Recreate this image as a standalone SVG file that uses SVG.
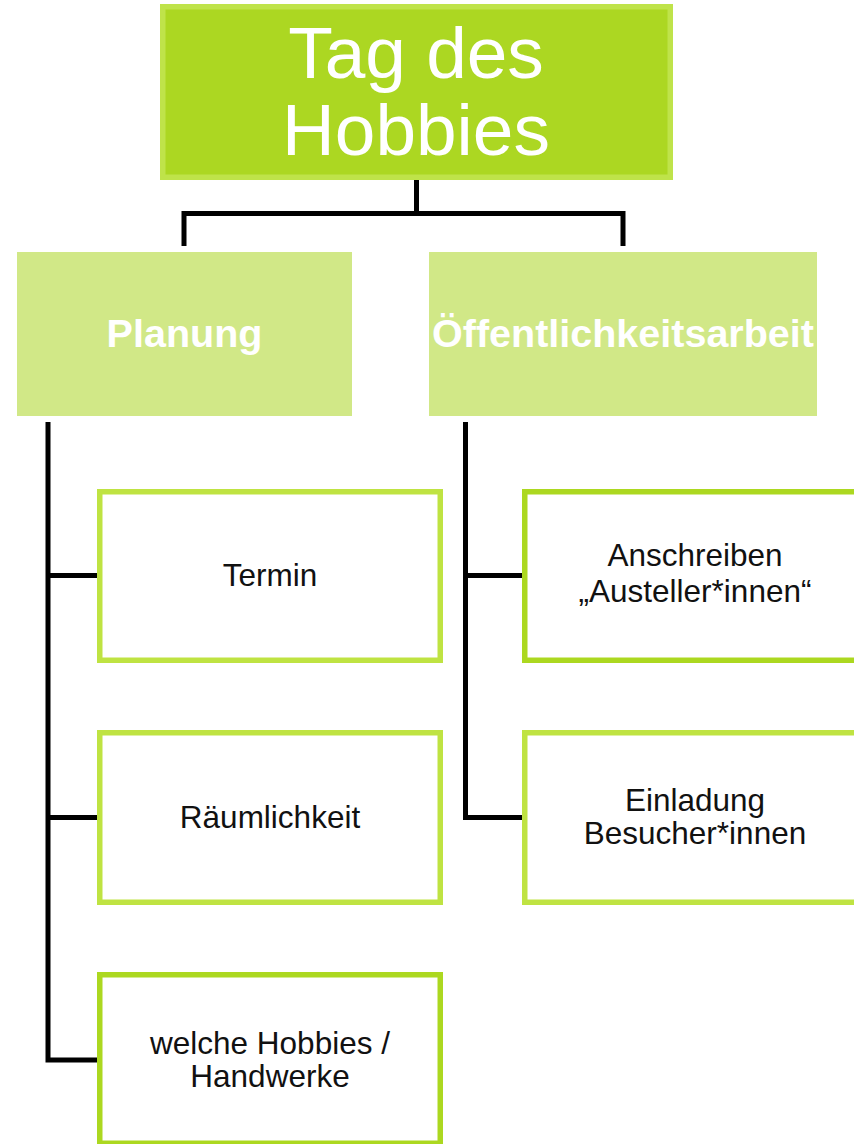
<svg xmlns="http://www.w3.org/2000/svg" width="854" height="1144" viewBox="0 0 854 1144">
<style>
.root{fill:#acd722;stroke:#bfe34a;stroke-width:5.5}
.cat{fill:#d1e887}
.box{fill:#ffffff;stroke-width:5.5}
.lt{stroke:#bfe342}
.dk{stroke:#acd820}
.conn{fill:none;stroke:#000;stroke-width:5;stroke-linejoin:miter;stroke-linecap:butt}
.t1{font-family:"Liberation Sans",Arial,sans-serif;font-size:73px;fill:#fff;text-anchor:middle}
.t2{font-family:"Liberation Sans",Arial,sans-serif;font-size:39.5px;font-weight:bold;fill:#fff;text-anchor:middle}
.t3{font-family:"Liberation Sans",Arial,sans-serif;font-size:31.5px;fill:#111;text-anchor:middle}
</style>
<rect width="854" height="1144" fill="#fff"/>
<g id="connectors">
<path class="conn" d="M416.5 180 V213.5 M184 246 V213.5 H623 V246"/>
<path class="conn" d="M48 422 V1060 H97 M48 575.5 H97 M48 817.5 H97"/>
<path class="conn" d="M465.5 422 V817.5 H522 M465.5 575.5 H522"/>
</g>
<g id="root">
<rect class="root" x="162.75" y="6.75" width="507.5" height="170.5"/>
<text class="t1" x="416" y="78">Tag des</text>
<text class="t1" x="416" y="155">Hobbies</text>
</g>
<g id="planung">
<rect class="cat" x="17" y="252" width="335" height="164"/>
<text class="t2" x="184.5" y="347">Planung</text>
</g>
<g id="oeffentlichkeit">
<rect class="cat" x="429" y="252" width="388" height="164"/>
<text class="t2" x="623" y="347">Öffentlichkeitsarbeit</text>
</g>
<g id="termin">
<rect class="box lt" x="99.75" y="491.75" width="340.5" height="168.5"/>
<text class="t3" x="270" y="586">Termin</text>
</g>
<g id="raeumlichkeit">
<rect class="box lt" x="99.75" y="732.75" width="340.5" height="169.5"/>
<text class="t3" x="270" y="828">Räumlichkeit</text>
</g>
<g id="hobbies">
<rect class="box dk" x="99.75" y="974.75" width="340.5" height="168.5"/>
<text class="t3" x="270" y="1054">welche Hobbies /</text>
<text class="t3" x="270" y="1087">Handwerke</text>
</g>
<g id="anschreiben">
<rect class="box dk" x="524.75" y="491.75" width="340.5" height="168.5"/>
<text class="t3" x="695" y="566">Anschreiben</text>
<text class="t3" x="695" y="602">„Austeller*innen“</text>
</g>
<g id="einladung">
<rect class="box lt" x="524.75" y="732.75" width="340.5" height="169.5"/>
<text class="t3" x="695" y="811">Einladung</text>
<text class="t3" x="695" y="844">Besucher*innen</text>
</g>
</svg>
